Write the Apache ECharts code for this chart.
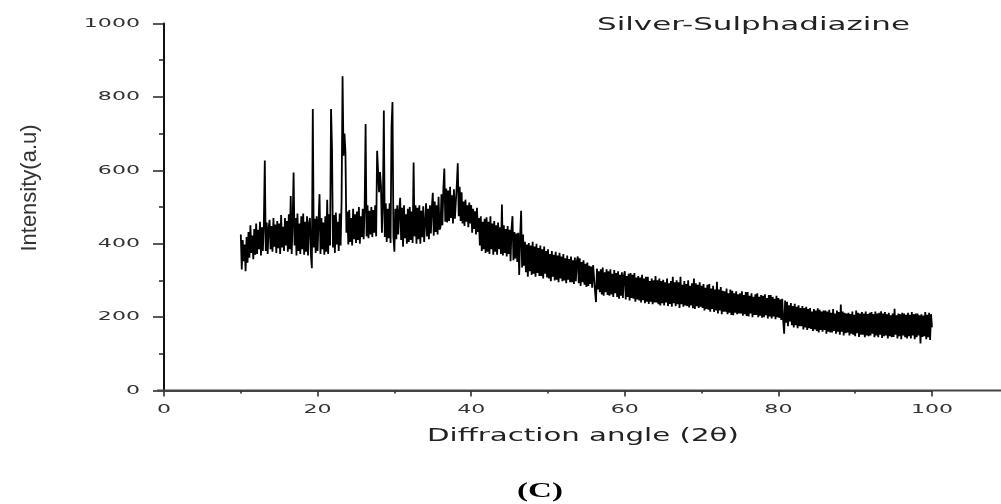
<!DOCTYPE html>
<html>
<head>
<meta charset="utf-8">
<script src="https://cdn.jsdelivr.net/npm/echarts@6/dist/echarts.min.js"></script>
<style>
html,body{margin:0;padding:0;background:#fff;}
#chart{width:1001px;height:504px;}
</style>
</head>
<body>
<div id="chart"></div>
<script>
// Scan grid of the diffractometer (2θ, degrees)
const scanStart = 10;
const scanStep = 0.125;
// Intensity (a.u.), one row per degree (8 readings per degree)
const intensity = [
  425, 330, 410, 352, 398, 325, 418, 348,   // 10
  432, 362, 450, 375, 422, 358, 440, 370,   // 11
  455, 372, 438, 385, 460, 368, 445, 380,   // 12
  452, 627, 380, 458, 372, 442, 465, 385,   // 13
  448, 378, 470, 392, 452, 375, 462, 388,   // 14
  455, 372, 478, 390, 446, 380, 470, 395,   // 15
  462, 378, 480, 385, 530, 372, 458, 594,   // 16
  395, 470, 368, 482, 380, 455, 372, 475,   // 17
  385, 482, 370, 460, 378, 475, 368, 455,   // 18
  470, 372, 333, 767, 390, 468, 375, 475,   // 19
  380, 462, 535, 372, 470, 385, 458, 370,   // 20
  475, 378, 520, 372, 480, 395, 767, 662,   // 21
  390, 478, 375, 485, 398, 460, 380, 482,   // 22
  395, 520, 856, 640, 700, 650, 430, 488,   // 23
  398, 492, 405, 470, 395, 495, 412, 480,   // 24
  402, 488, 410, 500, 400, 475, 418, 495,   // 25
  412, 498, 726, 420, 505, 415, 490, 425,   // 26
  500, 418, 492, 430, 505, 420, 653, 598,   // 27
  540, 595, 560, 430, 505, 763, 418, 510,   // 28
  405, 495, 415, 510, 402, 717, 786, 420,   // 29
  378, 495, 412, 505, 425, 488, 525, 410,   // 30
  498, 392, 505, 415, 480, 400, 495, 405,   // 31
  500, 410, 488, 402, 621, 420, 505, 400,   // 32
  498, 412, 505, 400, 490, 418, 502, 405,   // 33
  405, 510, 420, 495, 412, 505, 428, 498,   // 34
  539, 422, 515, 432, 505, 425, 528, 438,   // 35
  445, 535, 450, 548, 605, 460, 550, 458,   // 36
  545, 462, 555, 470, 532, 455, 548, 468,   // 37
  470, 560, 619, 475, 555, 462, 540, 455,   // 38
  515, 448, 520, 460, 505, 445, 512, 455,   // 39
  505, 430, 495, 440, 488, 425, 498, 432,   // 40
  470, 395, 475, 380, 460, 385, 468, 375,   // 41
  472, 378, 460, 372, 475, 385, 455, 370,   // 42
  462, 378, 450, 370, 458, 385, 445, 372,   // 43
  507, 368, 450, 375, 440, 365, 448, 372,   // 44
  438, 352, 440, 475, 355, 432, 360, 428,   // 45
  350, 430, 315, 420, 490, 335, 425, 340,   // 46
  405, 322, 398, 310, 402, 325, 395, 315,   // 47
  405, 318, 392, 310, 400, 320, 388, 312,   // 48
  395, 312, 385, 305, 392, 318, 380, 308,   // 49
  385, 305, 372, 298, 380, 310, 370, 300,   // 50
  378, 302, 368, 295, 375, 305, 365, 298,   // 51
  372, 300, 360, 292, 368, 302, 358, 295,   // 52
  365, 295, 355, 290, 362, 298, 352, 365,   // 53
  292, 360, 285, 350, 295, 355, 288, 345,   // 54
  282, 349, 285, 340, 290, 338, 280, 342,   // 55
  338, 270, 241, 332, 275, 325, 268, 330,   // 56
  262, 335, 258, 322, 268, 330, 260, 325,   // 57
  258, 330, 262, 318, 255, 328, 265, 320,   // 58
  255, 325, 250, 315, 258, 322, 252, 312,   // 59
  325, 248, 312, 255, 318, 245, 320, 252,   // 60
  315, 250, 320, 242, 308, 248, 312, 245,   // 61
  308, 240, 315, 246, 305, 238, 310, 242,   // 62
  310, 236, 298, 242, 305, 235, 300, 240,   // 63
  312, 240, 300, 235, 305, 232, 298, 238,   // 64
  302, 232, 295, 240, 305, 230, 292, 236,   // 65
  298, 228, 310, 238, 295, 230, 300, 235,   // 66
  295, 225, 310, 235, 288, 228, 298, 232,   // 67
  290, 230, 300, 226, 285, 232, 292, 224,   // 68
  305, 222, 292, 230, 288, 225, 295, 228,   // 69
  285, 225, 290, 218, 280, 222, 288, 220,   // 70
  290, 215, 278, 222, 285, 214, 275, 218,   // 71
  296, 210, 275, 218, 282, 208, 272, 215,   // 72
  270, 215, 278, 208, 265, 212, 275, 206,   // 73
  272, 205, 265, 212, 270, 208, 262, 210,   // 74
  265, 210, 270, 204, 260, 208, 268, 203,   // 75
  268, 202, 258, 210, 265, 200, 255, 206,   // 76
  262, 206, 265, 200, 255, 204, 260, 198,   // 77
  258, 200, 262, 205, 252, 196, 260, 202,   // 78
  260, 196, 255, 202, 250, 194, 258, 200,   // 79
  252, 198, 248, 192, 250, 190, 155, 245,   // 80
  185, 242, 175, 232, 188, 238, 178, 230,   // 81
  172, 236, 178, 228, 170, 232, 175, 225,   // 82
  175, 230, 166, 225, 172, 228, 165, 222,   // 83
  170, 225, 168, 215, 162, 222, 166, 218,   // 84
  162, 224, 158, 220, 165, 215, 160, 218,   // 85
  165, 218, 155, 215, 160, 220, 158, 212,   // 86
  158, 222, 162, 210, 155, 218, 160, 214,   // 87
  152, 234, 160, 215, 150, 212, 156, 210,   // 88
  158, 212, 150, 208, 155, 215, 152, 206,   // 89
  148, 218, 156, 212, 146, 210, 152, 214,   // 90
  152, 210, 145, 215, 150, 208, 148, 212,   // 91
  150, 214, 155, 208, 145, 215, 150, 210,   // 92
  145, 212, 152, 216, 143, 210, 148, 214,   // 93
  150, 208, 142, 212, 148, 205, 145, 210,   // 94
  146, 223, 152, 205, 142, 210, 148, 208,   // 95
  140, 212, 150, 210, 145, 206, 142, 212,   // 96
  148, 206, 142, 214, 150, 208, 140, 210,   // 97
  145, 210, 150, 205, 128, 208, 146, 204,   // 98
  148, 214, 140, 206, 145, 212, 138, 208,   // 99
  172                                       // 100
];
const xTicks = [0, 20, 40, 60, 80, 100];
const yTicks = [0, 200, 400, 600, 800, 1000];
const chartTitle = 'Silver-Sulphadiazine';
const xName = 'Diffraction angle (2θ)';
const yName = 'Intensity(a.u)';
const panelLabel = '(C)';

const points = intensity.map((v, i) => [scanStart + i * scanStep, v]);

const chart = echarts.init(document.getElementById('chart'), null, {renderer: 'canvas'});

chart.setOption({
  animation: false,
  backgroundColor: '#fff',
  grid: {left: 164, right: 69, top: 23.5, bottom: 113.5, containLabel: false},
  xAxis: {
    type: 'value', min: xTicks[0], max: xTicks[xTicks.length - 1], interval: 20,
    axisLine: {show: true, onZero: false, lineStyle: {color: '#444', width: 2}},
    axisTick: {show: true, inside: false, length: 6, lineStyle: {color: '#222', width: 1.5}},
    minorTick: {show: true, splitNumber: 2, length: 3, lineStyle: {color: '#222', width: 1.5}},
    splitLine: {show: false},
    axisLabel: {show: false}
  },
  yAxis: {
    type: 'value', min: yTicks[0], max: yTicks[yTicks.length - 1], interval: 200,
    axisLine: {show: true, onZero: false, lineStyle: {color: '#111', width: 2}},
    axisTick: {show: true, inside: false, length: 11, lineStyle: {color: '#222', width: 1.5}},
    minorTick: {show: true, splitNumber: 2, length: 5, lineStyle: {color: '#222', width: 1.5}},
    splitLine: {show: false},
    axisLabel: {show: false}
  },
  series: [{
    type: 'line',
    data: points,
    showSymbol: false,
    symbol: 'none',
    sampling: null,
    lineStyle: {color: '#000', width: 1.8},
    z: 3
  }]
});

// Text in the source picture is horizontally stretched; reproduce it with scaleX.
const stretch = 1.7;
const labelFont = '13px "DejaVu Sans"';
const graphics = [];
const xStart = chart.convertToPixel({gridIndex: 0}, [xTicks[0], 0]);
graphics.push({
  type: 'line', silent: true, z: 10,
  shape: {x1: xStart[0] - 7, y1: xStart[1], x2: 1001, y2: xStart[1]},
  style: {stroke: '#444', lineWidth: 2}
});
xTicks.forEach(t => {
  const p = chart.convertToPixel({gridIndex: 0}, [t, 0]);
  graphics.push({
    type: 'text', x: p[0], y: p[1] + 19, scaleX: stretch,
    style: {text: String(t), font: labelFont, fill: '#333', textAlign: 'center', textVerticalAlign: 'middle'}
  });
});
yTicks.forEach(t => {
  const p = chart.convertToPixel({gridIndex: 0}, [0, t]);
  graphics.push({
    type: 'text', x: p[0] - 24, y: p[1], scaleX: stretch,
    style: {text: String(t), font: labelFont, fill: '#333', textAlign: 'right', textVerticalAlign: 'middle'}
  });
});
graphics.push(
  {
    type: 'text', x: 597, y: 25, scaleX: 1.72,
    style: {text: chartTitle, font: '18px "DejaVu Sans"', fill: '#222', textAlign: 'left', textVerticalAlign: 'middle'}
  },
  {
    type: 'text', x: 427, y: 437, scaleX: 1.72,
    style: {text: xName, font: '17px "DejaVu Sans"', fill: '#222', textAlign: 'left', textVerticalAlign: 'middle'}
  },
  {
    type: 'text', x: 30, y: 188, rotation: Math.PI / 2,
    style: {text: yName, font: '22px "Liberation Sans"', fill: '#333', textAlign: 'center', textVerticalAlign: 'middle'}
  },
  {
    type: 'text', x: 540, y: 491, scaleX: 1.5,
    style: {text: panelLabel, font: 'bold 22px "Liberation Serif"', fill: '#000', textAlign: 'center', textVerticalAlign: 'middle'}
  }
);
chart.setOption({graphic: graphics});
</script>
</body>
</html>
